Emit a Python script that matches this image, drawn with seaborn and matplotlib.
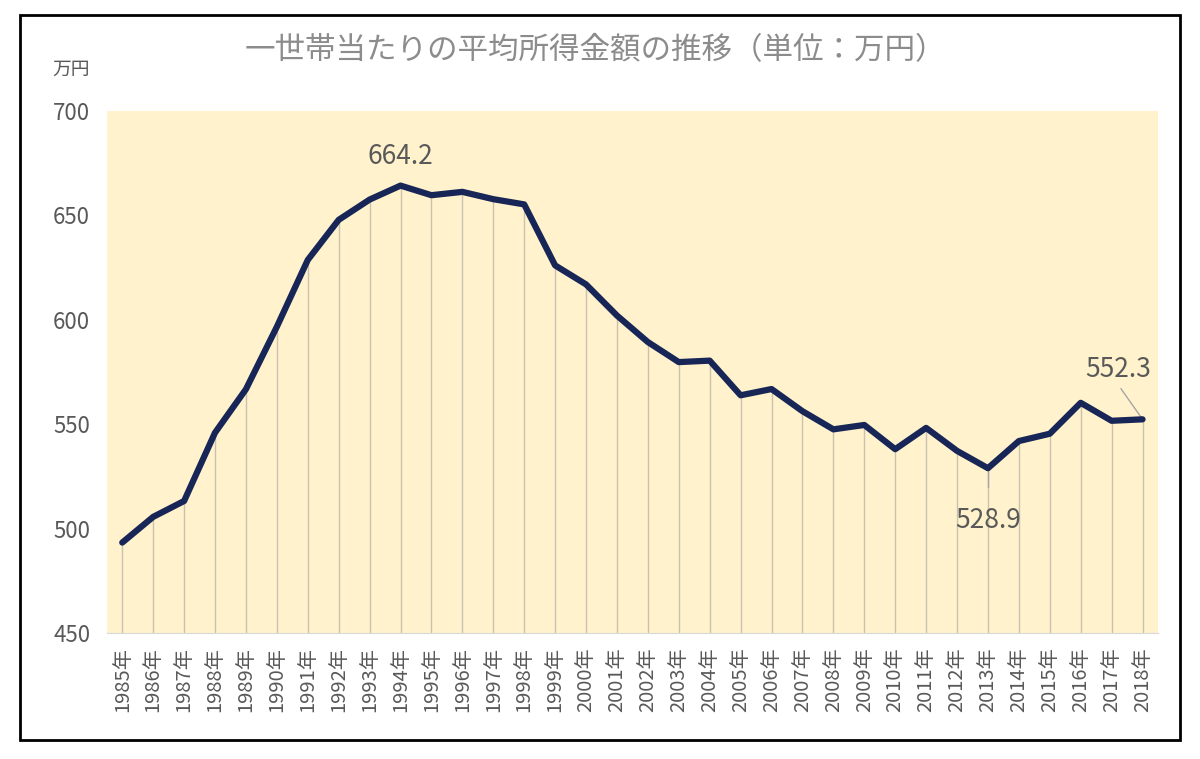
import pandas as pd
import matplotlib.pyplot as plt
import seaborn as sns
from matplotlib.patches import Rectangle

# 一世帯当たりの平均所得金額（万円）
years = list(range(1985, 2019))
income = [493.3, 505.6, 513.2, 545.9, 566.7, 596.6, 628.6, 647.8, 657.5, 664.2,
          659.6, 661.2, 657.7, 655.2, 626.0, 616.9, 602.0, 589.3, 579.7, 580.4,
          563.8, 566.8, 556.2, 547.5, 549.6, 538.0, 548.2, 537.2, 528.9, 541.9,
          545.4, 560.2, 551.6, 552.3]
year_labels = [f'{y}年' for y in years]

df = pd.DataFrame({'idx': range(len(years)), 'income': income})

sns.set_style('white')
plt.rcParams['font.family'] = ['Noto Sans CJK JP', 'DejaVu Sans']

fig = plt.figure(figsize=(12, 7.59), dpi=100)
ax = fig.add_axes([0.089, 0.166, 0.876, 0.688])
ax.set_facecolor('#FFF2CC')

# drop lines from each point
ax.vlines(df['idx'], 450, df['income'], color='#C9C2B0', lw=1.0, zorder=1)

sns.lineplot(x='idx', y='income', data=df, ax=ax, color='#172656', lw=4.5, zorder=3)

ax.set_xlim(-0.5, len(years) - 0.5)
ax.set_ylim(450, 700)
ax.set_yticks([450, 500, 550, 600, 650, 700])
ax.set_xticks(df['idx'])
ax.set_xticklabels(year_labels, rotation=90, fontsize=14.5, color='#595959')
ax.tick_params(axis='y', labelsize=16, colors='#595959', length=0, pad=12)
ax.tick_params(axis='x', length=0, pad=10)
ax.set_xlabel('')
ax.set_ylabel('')
for s in ['top', 'right', 'left']:
    ax.spines[s].set_visible(False)
ax.spines['bottom'].set_color('#D9D9D9')

# labels on peak / low after peak / latest
i_max = income.index(max(income))
i_min = i_max + income[i_max:].index(min(income[i_max:]))
i_last = len(income) - 1
ax.text(i_max, 678, f'{income[i_max]:.1f}', ha='center', va='center', fontsize=19, color='#595959')
ax.plot([i_min, i_min], [income[i_min] - 1, 520], color='#A6A6A6', lw=1)
ax.text(i_min, 504, f'{income[i_min]:.1f}', ha='center', va='center', fontsize=19, color='#595959')
ax.plot([i_last - 0.7, i_last], [567, income[i_last]], color='#A6A6A6', lw=1)
ax.text(i_last - 0.8, 576, f'{income[i_last]:.1f}', ha='center', va='center', fontsize=19, color='#595959')

fig.text(0.496, 0.934, '一世帯当たりの平均所得金額の推移（単位：万円）', ha='center', va='center',
         fontsize=22, color='#8C8C8C')
fig.text(0.059, 0.908, '万円', ha='center', va='center', fontsize=13.5, color='#595959')

fig.patches.append(Rectangle((0.017, 0.025), 0.966, 0.955, transform=fig.transFigure,
                             fill=False, edgecolor='black', lw=2))

plt.savefig('out.png', dpi=100)
